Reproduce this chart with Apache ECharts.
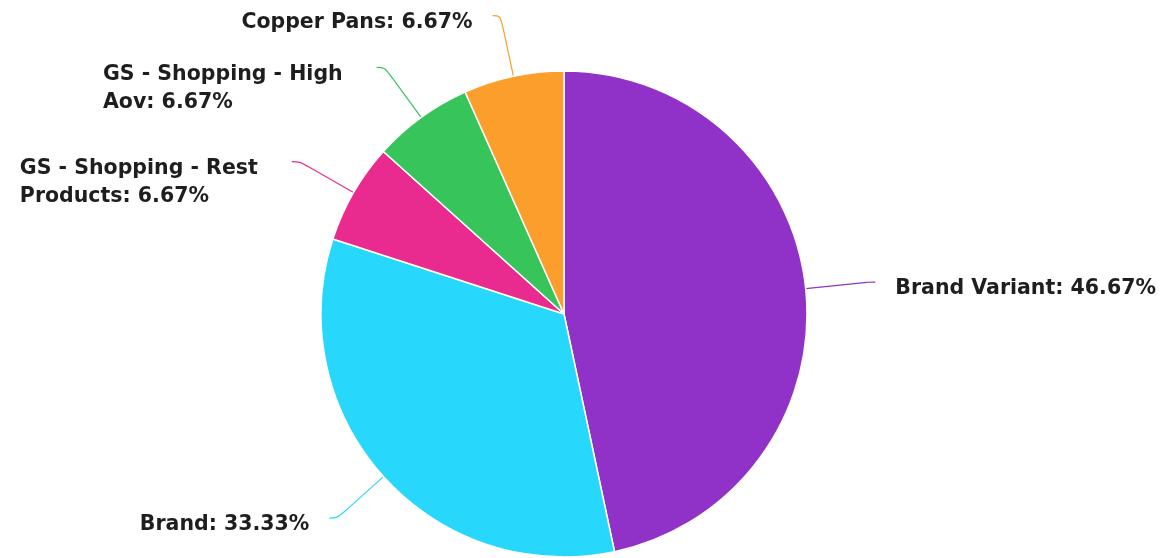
<!DOCTYPE html>
<html><head><meta charset="utf-8">
<script src="https://cdn.jsdelivr.net/npm/echarts@6/dist/echarts.min.js"></script>
<style>html,body{margin:0;padding:0;background:#fff}#c{width:1164px;height:558px}</style>
</head><body><div id="c"></div>
<script>
const categories = ["Brand Variant", "Brand", "GS - Shopping - Rest Products", "GS - Shopping - High Aov", "Copper Pans"];
const values = [46.67, 33.33, 6.67, 6.67, 6.67];
const colors = ["#9031C7", "#28D8FC", "#E92B8F", "#37C45A", "#FB9E2B"];

const MAX_CHARS = 21;
function wrap(text) {
  const words = text.split(' ');
  const lines = [];
  let cur = '';
  for (const w of words) {
    const t = cur ? cur + ' ' + w : w;
    if (t.length > MAX_CHARS && cur) { lines.push(cur); cur = w; } else cur = t;
  }
  if (cur) lines.push(cur);
  return lines.join('\n');
}

const CX = 564, CY = 314;
const chart = echarts.init(document.getElementById('c'));
chart.setOption({
  animation: false,
  color: colors,
  series: [{
    type: 'pie',
    center: [CX, CY],
    radius: 243,
    startAngle: 90,
    clockwise: true,
    avoidLabelOverlap: false,
    data: categories.map((n, i) => ({ name: n, value: values[i] })),
    itemStyle: { borderColor: '#fff', borderWidth: 1.5 },
    label: {
      formatter: p => wrap(p.name + ': ' + p.value.toFixed(2) + '%'),
      fontFamily: 'DejaVu Sans',
      fontWeight: 'bold',
      fontSize: 20.5,
      color: '#1e1e1e',
      lineHeight: 28,
      distanceToLabelLine: 20
    },
    labelLine: { show: true, length: 62, length2: 8, smooth: 0.4, lineStyle: { width: 1.2 } },
    labelLayout: function (params) {
      const r = params.labelRect;
      const multi = r.height > 40;
      const out = { dy: r.height / 2 - 7, labelLinePoints: params.labelLinePoints };
      if (r.x + r.width < CX) { out.align = 'left'; out.x = r.x + (multi ? -14 : 0); }
      return out;
    }
  }]
});
</script></body></html>
